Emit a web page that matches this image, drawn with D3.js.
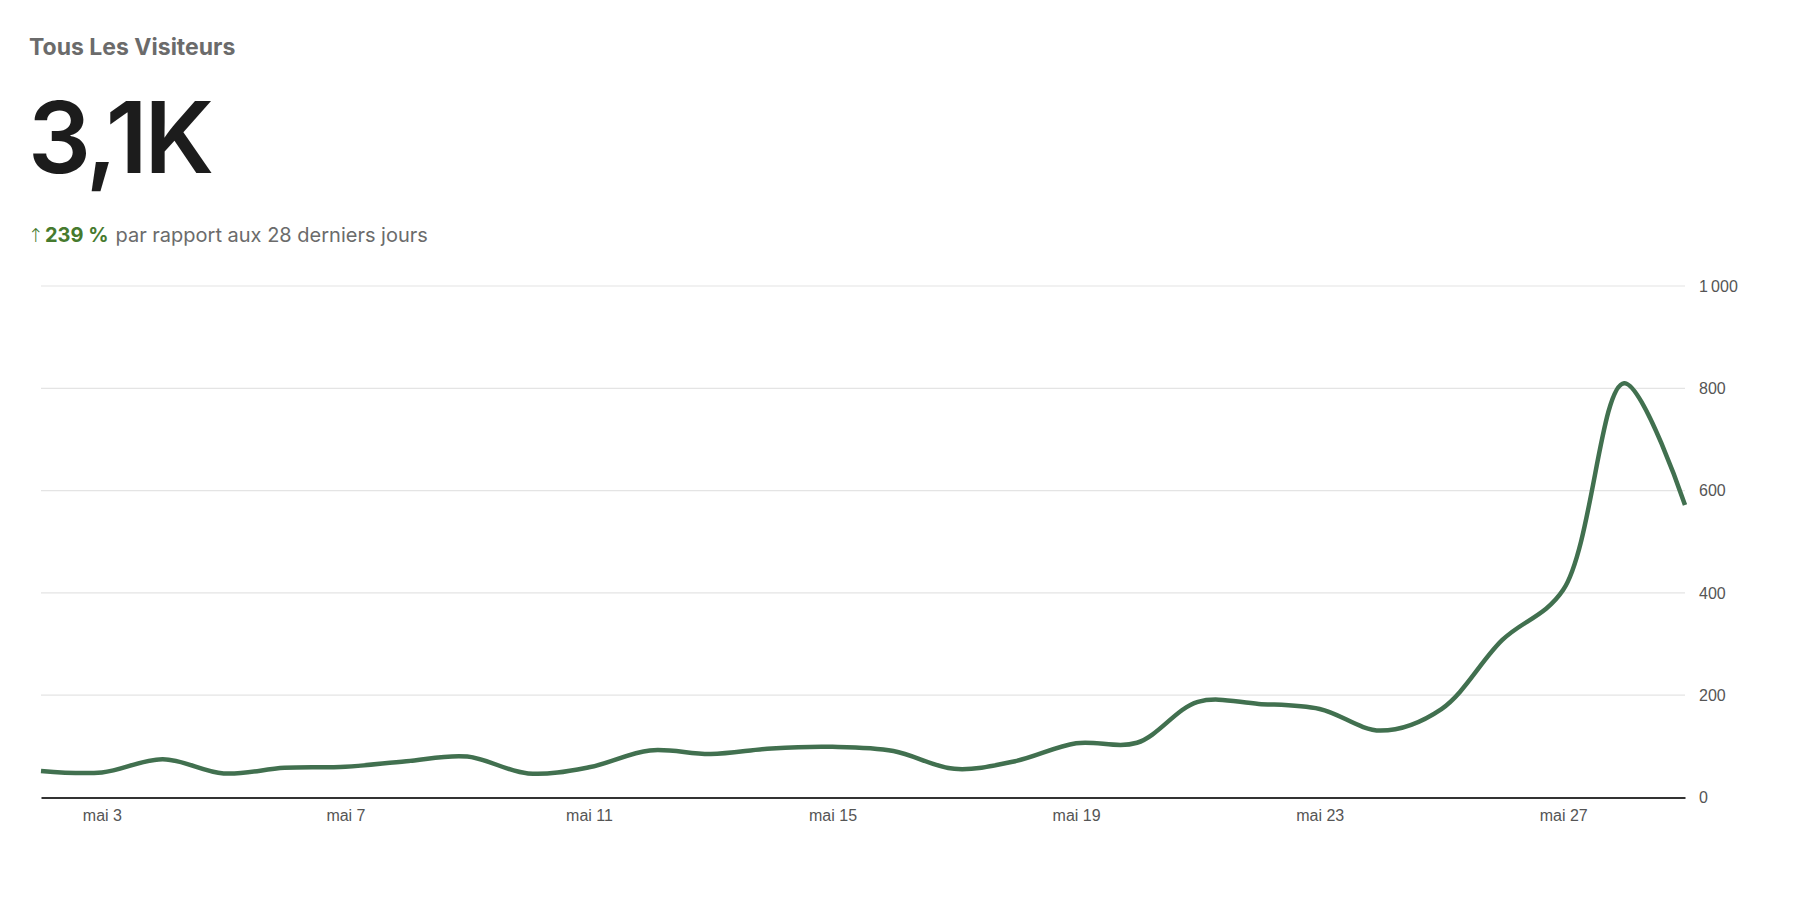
<!DOCTYPE html>
<html>
<head>
<meta charset="utf-8">
<script src="https://cdn.jsdelivr.net/npm/d3@7"></script>
<style>
  html, body { margin: 0; padding: 0; background: #ffffff; }
  svg { display: block; }
</style>
</head>
<body>
<svg id="chart" width="1800" height="916"></svg>
<script>
// ---- data ----
const days = [2,3,4,5,6,7,8,9,10,11,12,13,14,15,16,17,18,19,20,21,22,23,24,25,26,27,28,29];
const visitors = [52,49,75,47,58,60,71,80,47,59,92,85,96,99,91,56,71,106,107,187,183,173,131,173,308,406,810,572];
const xTickDays = [3,7,11,15,19,23,27];
const yTicks = [0,200,400,600,800,1000];
const title = "Tous Les Visiteurs";
const bigNumber = "3,1K";
const changeValue = "239 %";
const changeText = "par rapport aux 28 derniers jours";

// ---- layout ----
const svg = d3.select("#chart");
const mLeft = 41, mRight = 1685, mTop = 286, mBottom = 797.5;

const dates = days.map(d => new Date(2024, 4, d));
const x = d3.scaleTime().domain(d3.extent(dates)).range([mLeft, mRight]);
const y = d3.scaleLinear().domain([0, 1000]).range([mBottom, mTop]);

// header
svg.append("text").attr("x", 29).attr("y", 55)
  .attr("font-family", "Inter, 'Noto Sans', sans-serif").attr("font-weight", 700)
  .attr("font-size", 23).attr("fill", "#6b6b6b").text(title);

svg.append("text").attr("x", 28).attr("y", 173)
  .attr("font-family", "Inter, 'Noto Sans', sans-serif").attr("font-weight", 600)
  .attr("font-size", 99).attr("letter-spacing", -3).attr("fill", "#1c1c1c").text(bigNumber);

const sub = svg.append("text").attr("x", 28).attr("y", 242)
  .attr("font-family", "Inter, 'Noto Sans', sans-serif").attr("font-size", 20);
sub.append("tspan").attr("font-family", "'DejaVu Sans', sans-serif").attr("font-size", 19)
  .attr("font-weight", 300).attr("fill", "#467a2e").text("↑");
sub.append("tspan").attr("dx", 1).attr("font-weight", 700).attr("fill", "#467a2e").text(changeValue);
sub.append("tspan").attr("dx", 7).attr("fill", "#6b6b6b").text(changeText);

// gridlines
const yAxis = d3.axisRight(y).tickValues(yTicks).tickSize(0).tickPadding(14)
  .tickFormat(d => d3.format(",")(d).replace(",", "\u202F"));
const gy = svg.append("g").attr("transform", `translate(${mRight},0)`).call(yAxis);
gy.select(".domain").remove();
gy.selectAll("text").attr("font-family", "'Liberation Sans', Arial, sans-serif")
  .attr("font-size", 16).attr("fill", "#555").attr("dy", "0.32em");

svg.append("g").selectAll("line").data(yTicks.filter(d => d > 0)).join("line")
  .attr("x1", mLeft).attr("x2", mRight)
  .attr("y1", d => y(d)).attr("y2", d => y(d))
  .attr("stroke", "#e4e4e4").attr("stroke-width", 1.2);

// x axis
const xAxis = d3.axisBottom(x).tickValues(xTickDays.map(d => new Date(2024, 4, d)))
  .tickSize(0).tickPadding(12).tickFormat(d => "mai " + d.getDate());
const gx = svg.append("g").attr("transform", `translate(0,${mBottom})`).call(xAxis);
gx.select(".domain").attr("stroke", "#333").attr("stroke-width", 2);
gx.selectAll("text").attr("font-family", "'Liberation Sans', Arial, sans-serif")
  .attr("font-size", 16).attr("fill", "#555");

// line
const line = d3.line().x((d, i) => x(dates[i])).y(d => y(d)).curve(d3.curveCatmullRom.alpha(0.5));
svg.append("path").datum(visitors).attr("d", line)
  .attr("fill", "none").attr("stroke", "#41704f").attr("stroke-width", 4.5)
  .attr("stroke-linejoin", "round");
</script>
</body>
</html>
